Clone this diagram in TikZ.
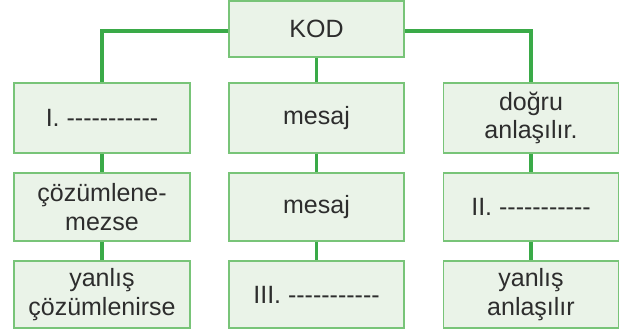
\documentclass[tikz,border=0pt]{standalone}
\usepackage{fontspec}
\setmainfont{Liberation Sans}
\usepackage{tikz}

\definecolor{kutuyesil}{RGB}{234,243,232}
\definecolor{kenaryesil}{RGB}{120,196,120}
\definecolor{hatyesil}{RGB}{58,170,72}
\definecolor{yazigri}{RGB}{45,45,45}

\newcommand{\cizgi}{-\kern0pt-\kern0pt-\kern0pt-\kern0pt-\kern0pt-\kern0pt-\kern0pt-\kern0pt-\kern0pt-\kern0pt-}

\tikzset{
  kutu/.style={draw=kenaryesil, line width=1.5pt, fill=kutuyesil, text=yazigri,
    minimum width=175pt, minimum height=69pt, inner sep=0pt, align=center,
    font=\fontsize{25}{28.5}\selectfont},
  hat/.style={draw=hatyesil, line width=3.5pt}
}

\begin{document}
\begin{tikzpicture}[x=1pt,y=1pt,yscale=-1]
\useasboundingbox (0,0) rectangle (623,335);

% Boxes
\node [kutu, minimum height=56pt] (kod) at (316.5,29) {KOD};
\node [kutu, minimum width=176pt, minimum height=70pt] (sol1) at (102,118) {I. \cizgi};
\node [kutu, minimum height=70pt] (orta1) at (316.5,118) {mesaj};
\node [kutu, minimum height=70pt] (sag1) at (531,118) {doğru\\anlaşılır.};
\node [kutu, minimum width=176pt, minimum height=68pt] (sol2) at (102,207) {çözümlene-\\mezse};
\node [kutu, minimum height=68pt] (orta2) at (316.5,207) {mesaj};
\node [kutu, minimum height=68pt] (sag2) at (531,207) {II. \cizgi};
\node [kutu, minimum width=176pt, minimum height=67pt] (sol3) at (102,294.5) {yanlış\\çözümlenirse};
\node [kutu, minimum height=67pt] (orta3) at (316.5,294.5) {III. \cizgi};
\node [kutu, minimum height=67pt] (sag3) at (531,294.5) {yanlış\\anlaşılır};

% Connectors
\draw [hat] ([yshift=2pt]kod.west) -| (sol1.north);
\draw [hat] ([yshift=2pt]kod.east) -| (sag1.north);
\draw [hat] (kod) -- (orta1);
\draw [hat] (sol1) -- (sol2);
\draw [hat] (sol2) -- (sol3);
\draw [hat] (orta1) -- (orta2);
\draw [hat] (orta2) -- (orta3);
\draw [hat] (sag1) -- (sag2);
\draw [hat] (sag2) -- (sag3);

\end{tikzpicture}
\end{document}
